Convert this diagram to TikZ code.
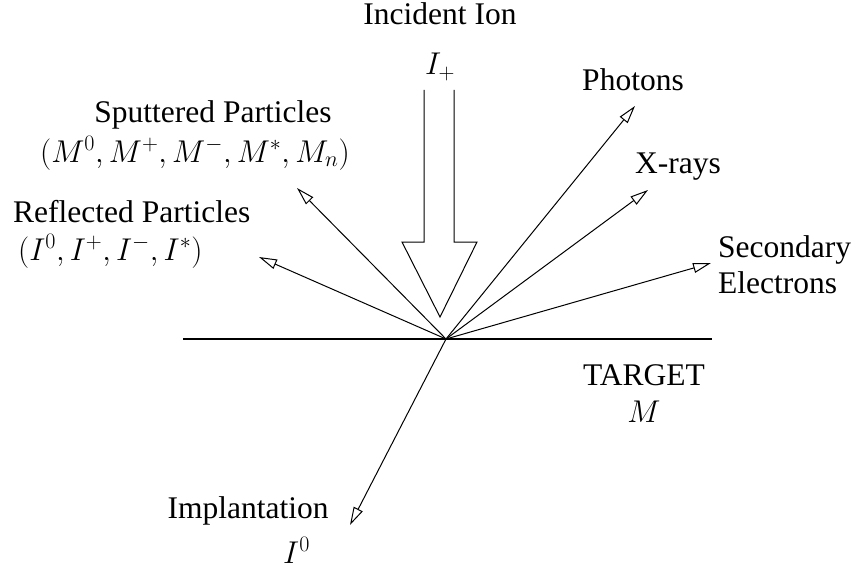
\RequirePackage{fix-cm}
\documentclass[tikz,border=0pt]{standalone}
\usepackage{fontspec}
\setmainfont{Liberation Serif}
\usetikzlibrary{arrows.meta}
\begin{document}
\begin{tikzpicture}[x=1pt,y=-1pt,
  lbl/.style={inner sep=0pt, font=\fontsize{31.5}{36}\selectfont},
  ray/.style={line width=1pt, -{Triangle[open,length=18pt,width=10pt]}}]
\useasboundingbox (0,0) rectangle (853,567);
\coordinate (O) at (446,339);
\coordinate (tPh) at (635,106);
\coordinate (tXr) at (648,190);
\coordinate (tSe) at (711,263);
\coordinate (tSp) at (297,188);
\coordinate (tRe) at (259,257);
\coordinate (tIm) at (350,525);
\coordinate (tL) at (183,339);
\coordinate (tR) at (712,339);
% target surface
\draw[line width=2.5pt] (tL) -- (tR);
% incident ion arrow
\draw[line width=1pt, line join=miter] (424,90) -- (424,242) -- (402,242) -- (440,317) -- (477,242) -- (454,242) -- (454,90);
% rays
\draw[ray] (O) -- (tPh);
\draw[ray] (O) -- (tXr);
\draw[ray] (O) -- (tSe);
\draw[ray] (O) -- (tSp);
\draw[ray] (O) -- (tRe);
\draw[ray] (O) -- (tIm);
% labels
\node[lbl, anchor=base] (inc) at (440,25) {Incident Ion};
\node[lbl, anchor=base] (incI) at (440,75) {$I_+$};
\node[lbl, anchor=base] (ph) at (633,91) {Photons};
\node[lbl, anchor=base] (xr) at (678,173) {X-rays};
\node[lbl, anchor=base west] (se1) at (718,257) {Secondary};
\node[lbl, anchor=base west] (se2) at (718,293) {Electrons};
\node[lbl, anchor=base] (sp1) at (213,122) {Sputtered Particles};
\node[lbl, anchor=base west] (sp2) at (40,162) {$(M^0,M^+,M^-,M^*,M_n)$};
\node[lbl, anchor=base west] (re1) at (13,222) {Reflected Particles};
\node[lbl, anchor=base west] (re2) at (18,260) {$(I^0,I^+,I^-,I^*)$};
\node[lbl, anchor=base] (tg1) at (644,385) {TARGET};
\node[lbl, anchor=base] (tg2) at (644,422) {$M$};
\node[lbl, anchor=base] (im1) at (248,518) {Implantation};
\node[lbl, anchor=base west] (im2) at (283,563) {$I^0$};
\end{tikzpicture}
\end{document}
